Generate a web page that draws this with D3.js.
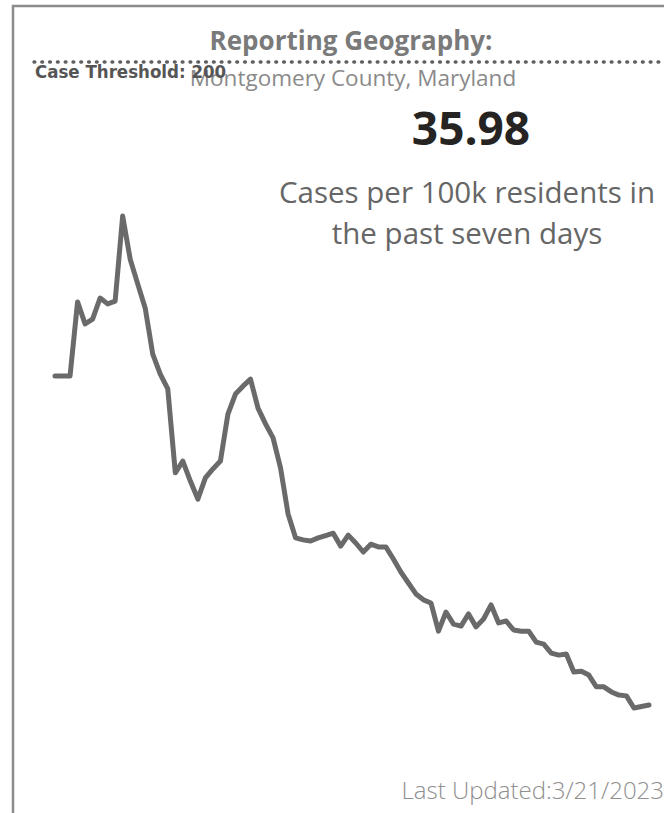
<!DOCTYPE html>
<html>
<head>
<meta charset="utf-8">
<script src="https://cdn.jsdelivr.net/npm/d3@7/dist/d3.min.js"></script>
<style>
  html, body { margin: 0; padding: 0; background: #fff; }
  svg { display: block; }
</style>
</head>
<body>
<svg id="chart" width="664" height="813"></svg>
<script>
// ---- data ----
const title = "Reporting Geography:";
const geography = "Montgomery County, Maryland";
const currentValue = "35.98";
const subtitleLines = ["Cases per 100k residents in", "the past seven days"];
const lastUpdated = "Last Updated:3/21/2023";
const threshold = 200;
const thresholdLabel = "Case Threshold: 200";
const casesPer100k = [
  119.9, 119.9, 119.9, 138.8, 133.2, 134.4, 139.8, 138.3, 139.0, 160.7,
  149.7, 143.4, 137.2, 125.5, 120.4, 116.6, 95.2, 98.2, 93.1, 88.5,
  93.9, 96.2, 98.2, 110.2, 115.3, 117.3, 119.1, 111.7, 107.7, 104.1,
  96.4, 84.7, 78.6, 78.1, 77.8, 78.6, 79.2, 79.8, 76.5, 79.3,
  77.3, 75.0, 77.0, 76.3, 76.3, 73.2, 69.9, 67.1, 64.3, 62.8,
  62.0, 54.8, 59.7, 56.6, 56.1, 59.2, 55.9, 57.9, 61.5, 56.9,
  57.4, 55.1, 54.8, 54.8, 52.0, 51.5, 49.2, 48.7, 49.0, 44.4,
  44.6, 43.6, 40.6, 40.6, 39.3, 38.5, 38.3, 35.2, 35.6, 35.98
];
const dayIndex = casesPer100k.map((_, i) => i);

// ---- layout ----
const svg = d3.select("#chart");
const W = 664, H = 813;

// card border
svg.append("rect")
  .attr("x", 13).attr("y", 6)
  .attr("width", W + 20).attr("height", H + 20)
  .attr("fill", "#fff")
  .attr("stroke", "#8c8c8c")
  .attr("stroke-width", 2.5);

const x = d3.scaleLinear().domain([0, casesPer100k.length - 1]).range([55, 649]);
const y = d3.scaleLinear().domain([0, threshold]).range([846, 62]);

// series line
const line = d3.line()
  .x((d, i) => x(dayIndex[i]))
  .y(d => y(d));

svg.append("path")
  .datum(casesPer100k)
  .attr("d", line)
  .attr("fill", "none")
  .attr("stroke", "#6a6a6a")
  .attr("stroke-width", 5)
  .attr("stroke-linejoin", "round")
  .attr("stroke-linecap", "round");

// texts
svg.append("text")
  .attr("x", 351).attr("y", 50)
  .attr("text-anchor", "middle")
  .attr("font-family", "'Open Sans', sans-serif")
  .attr("font-weight", 700)
  .attr("font-size", 26)
  .attr("fill", "#7a7a7a")
  .text(title);

svg.append("text")
  .attr("x", 353).attr("y", 86)
  .attr("text-anchor", "middle")
  .attr("font-family", "'Open Sans', sans-serif")
  .attr("font-size", 22.5)
  .attr("fill", "#8a8a8a")
  .text(geography);

// threshold dotted line (drawn over the titles, as in the source)
svg.append("line")
  .attr("x1", 34).attr("x2", W + 10)
  .attr("y1", y(threshold)).attr("y2", y(threshold))
  .attr("stroke", "#5f5f5f")
  .attr("stroke-width", 3.4)
  .attr("stroke-linecap", "round")
  .attr("stroke-dasharray", "0.8 7");

svg.append("text")
  .attr("x", 35).attr("y", 78)
  .attr("font-family", "'DejaVu Sans Condensed', 'DejaVu Sans', sans-serif")
  .attr("font-stretch", "condensed")
  .attr("font-weight", 700)
  .attr("font-size", 18.5)
  .attr("fill", "#555")
  .text(thresholdLabel);

svg.append("text")
  .attr("x", 471).attr("y", 145)
  .attr("text-anchor", "middle")
  .attr("font-family", "'Open Sans', sans-serif")
  .attr("font-weight", 700)
  .attr("font-size", 46)
  .attr("fill", "#252423")
  .text(currentValue);

subtitleLines.forEach((t, i) => {
  svg.append("text")
    .attr("x", 467).attr("y", 203 + i * 41)
    .attr("text-anchor", "middle")
    .attr("font-family", "'Open Sans', sans-serif")
    .attr("font-size", 29.5)
    .attr("fill", "#666")
    .text(t);
});

svg.append("text")
  .attr("x", 664).attr("y", 799)
  .attr("text-anchor", "end")
  .attr("font-family", "'Open Sans', sans-serif")
  .attr("font-weight", 300)
  .attr("font-size", 24)
  .attr("fill", "#8f8f8f")
  .text(lastUpdated);
</script>
</body>
</html>
